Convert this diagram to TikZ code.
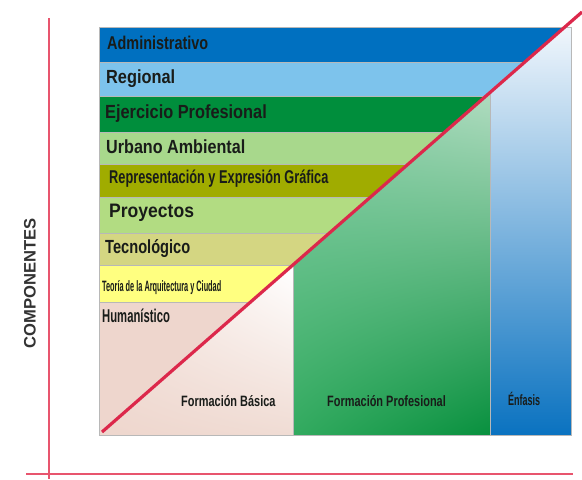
\documentclass[tikz,border=0pt]{standalone}
\usepackage{fontspec}
\usetikzlibrary{shadings}
\setmainfont{Liberation Sans}
\newfontfamily\fN{Liberation Sans}
\newfontfamily\fAdm{Liberation Sans}[FakeStretch=0.78]
\newfontfamily\fReg{Liberation Sans}[FakeStretch=0.86]
\newfontfamily\fEje{Liberation Sans}[FakeStretch=0.86]
\newfontfamily\fUrb{Liberation Sans}[FakeStretch=0.85]
\newfontfamily\fRep{Liberation Sans}[FakeStretch=0.69]
\newfontfamily\fPro{Liberation Sans}[FakeStretch=0.90]
\newfontfamily\fTec{Liberation Sans}[FakeStretch=0.77]
\newfontfamily\fTeo{Liberation Sans}[FakeStretch=0.49]
\newfontfamily\fHum{Liberation Sans}[FakeStretch=0.61]
\newfontfamily\fFor{Liberation Sans}[FakeStretch=0.73]
\newfontfamily\fEnf{Liberation Sans}[FakeStretch=0.60]
\definecolor{cAdm}{RGB}{0,112,192}
\definecolor{cReg}{RGB}{125,195,236}
\definecolor{cEje}{RGB}{0,142,60}
\definecolor{cUrb}{RGB}{168,216,140}
\definecolor{cRep}{RGB}{160,172,0}
\definecolor{cPro}{RGB}{178,220,130}
\definecolor{cTec}{RGB}{212,214,130}
\definecolor{cTeo}{RGB}{255,255,128}
\definecolor{cHum}{RGB}{238,214,205}
\definecolor{cRed}{RGB}{220,40,75}
\definecolor{cAxis}{RGB}{232,85,110}
\definecolor{txt}{RGB}{25,28,25}
\definecolor{fpA}{RGB}{143,211,174}
\definecolor{fpB}{RGB}{176,220,192}
\definecolor{fpC}{RGB}{50,170,95}
\definecolor{fpD}{RGB}{8,144,62}
\definecolor{enA}{RGB}{240,246,252}
\definecolor{enB}{RGB}{150,198,232}
\definecolor{enC}{RGB}{10,114,192}
\definecolor{fbA}{RGB}{244,228,222}
\definecolor{fbD}{RGB}{240,220,212}
\begin{document}
\begin{tikzpicture}[x=1pt,y=-1pt,
  sep/.style={draw=black!28, line width=0.6pt},
  lbl/.style={anchor=base west, inner sep=0pt, text=txt},
  axisline/.style={draw=cAxis, line width=1.4pt},
  diag/.style={draw=cRed, line width=3.2pt}]
\useasboundingbox (0,0) rectangle (582,480);
\fill[white] (0,0) rectangle (582,480);
% bands
\fill[cAdm] (99,27) rectangle (571,62);
\fill[cReg] (99,62) rectangle (571,96);
\fill[cEje] (99,96) rectangle (571,132);
\fill[cUrb] (99,132) rectangle (571,164);
\fill[cRep] (99,164) rectangle (571,197);
\fill[cPro] (99,197) rectangle (571,233);
\fill[cTec] (99,233) rectangle (571,265);
\fill[cTeo] (99,265) rectangle (571,302);
\fill[cHum] (99,302) rectangle (571,435);
\foreach \yy in {62,96,132,164,197,233,265,302} \draw[sep] (99,\yy) -- (571,\yy);
% columns below the diagonal
\shade[upper left=fbA, upper right=white, lower left=cHum, lower right=fbD]
  (99,435) -- (293,265.25) -- (293,435) -- cycle;
\shade[upper left=fpA, upper right=fpB, lower left=fpC, lower right=fpD]
  (293,265.25) -- (490,92.9) -- (490,435) -- (293,435) -- cycle;
\shade[top color=enA, middle color=enB, bottom color=enC]
  (490,92.9) -- (565.3,27) -- (571,27) -- (571,435) -- (490,435) -- cycle;
\draw[sep] (293,265.25) -- (293,435);
\draw[sep] (490,92.9) -- (490,435);
\draw[sep] (99,27) rectangle (571,435);
% labels
\node[lbl, font=\fAdm\bfseries\fontsize{18.5}{20}\selectfont] (adm) at (107,49) {Administrativo};
\node[lbl, font=\fReg\bfseries\fontsize{19}{21}\selectfont] (reg) at (106,83) {Regional};
\node[lbl, font=\fEje\bfseries\fontsize{19}{21}\selectfont] (eje) at (105,118) {Ejercicio Profesional};
\node[lbl, font=\fUrb\bfseries\fontsize{19}{21}\selectfont] (urb) at (106,153) {Urbano Ambiental};
\node[lbl, font=\fRep\bfseries\fontsize{18.5}{20}\selectfont] (rep) at (109,183) {Representación y Expresión Gráfica};
\node[lbl, font=\fPro\bfseries\fontsize{19.5}{21}\selectfont] (pro) at (109,217) {Proyectos};
\node[lbl, font=\fTec\bfseries\fontsize{19}{21}\selectfont] (tec) at (105,253) {Tecnológico};
\node[lbl, font=\fTeo\bfseries\fontsize{15}{17}\selectfont] (teo) at (102,291) {Teoría de la Arquitectura y Ciudad};
\node[lbl, font=\fHum\bfseries\fontsize{18.5}{20}\selectfont] (hum) at (102,322) {Humanístico};
\node[lbl, font=\fFor\bfseries\fontsize{15}{17}\selectfont] (fb) at (181,406) {Formación Básica};
\node[lbl, font=\fFor\bfseries\fontsize{15}{17}\selectfont] (fp) at (327,406) {Formación Profesional};
\node[lbl, font=\fEnf\bfseries\fontsize{15}{17}\selectfont] (enf) at (508,405) {Énfasis};
% diagonal
\coordinate (d0) at (102,432);
\coordinate (d1) at (582,12);
\draw[diag] (d0) -- (d1);
% axes
\coordinate (vt) at (49,18);
\coordinate (vb) at (49,479);
\coordinate (hl) at (26,474);
\coordinate (hr) at (573,474);
\draw[axisline] (vt) -- (vb);
\draw[axisline] (hl) -- (hr);
\node[rotate=90, inner sep=0pt, text=black!80, font=\fN\bfseries\fontsize{16.6}{18}\selectfont] (comp) at (30,283) {COMPONENTES};
\end{tikzpicture}
\end{document}
